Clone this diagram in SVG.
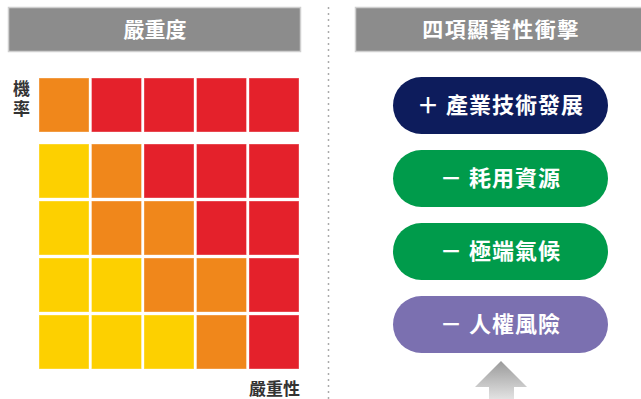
<svg xmlns="http://www.w3.org/2000/svg" width="641" height="399" viewBox="0 0 641 399">
<defs>
<linearGradient id="ag" x1="0" y1="0" x2="0" y2="1">
<stop offset="0" stop-color="#9a9a9a"/>
<stop offset="1" stop-color="#e2e2e2"/>
</linearGradient>
</defs>
<style>
.hdr{fill:#8c8c8c;stroke:#cfcfcf;stroke-width:1.5}
.ht{fill:#fff;font-family:"Noto Sans CJK TC","Noto Sans CJK SC",sans-serif;font-weight:700;font-size:21px;text-anchor:middle}
.o{fill:#f0871b}.r{fill:#e4212b}.y{fill:#fdd000}
.c rect{stroke:#fff;stroke-opacity:0.35;stroke-width:1}
.lbl{fill:#333;font-family:"Noto Sans CJK TC","Noto Sans CJK SC",sans-serif;font-weight:700;font-size:17px}
.pt{fill:#fff;font-family:"Noto Sans CJK TC","Noto Sans CJK SC",sans-serif;font-weight:700;font-size:22px;text-anchor:middle;letter-spacing:1px}
</style>
<rect width="641" height="399" fill="#fff"/>
<g id="severity-header">
<rect class="hdr" x="8.5" y="7.5" width="292" height="44"/>
<text class="ht" x="155" y="37">嚴重度</text>
</g>
<g id="matrix" class="c">
<rect class="o" x="39" y="78" width="50" height="54"/>
<rect class="r" x="91.5" y="78" width="50" height="54"/>
<rect class="r" x="144" y="78" width="50" height="54"/>
<rect class="r" x="196.5" y="78" width="50" height="54"/>
<rect class="r" x="249" y="78" width="50" height="54"/>
<rect class="y" x="39" y="144" width="50" height="54"/>
<rect class="o" x="91.5" y="144" width="50" height="54"/>
<rect class="r" x="144" y="144" width="50" height="54"/>
<rect class="r" x="196.5" y="144" width="50" height="54"/>
<rect class="r" x="249" y="144" width="50" height="54"/>
<rect class="y" x="39" y="201" width="50" height="54"/>
<rect class="o" x="91.5" y="201" width="50" height="54"/>
<rect class="o" x="144" y="201" width="50" height="54"/>
<rect class="r" x="196.5" y="201" width="50" height="54"/>
<rect class="r" x="249" y="201" width="50" height="54"/>
<rect class="y" x="39" y="258" width="50" height="54"/>
<rect class="y" x="91.5" y="258" width="50" height="54"/>
<rect class="o" x="144" y="258" width="50" height="54"/>
<rect class="o" x="196.5" y="258" width="50" height="54"/>
<rect class="r" x="249" y="258" width="50" height="54"/>
<rect class="y" x="39" y="315" width="50" height="54"/>
<rect class="y" x="91.5" y="315" width="50" height="54"/>
<rect class="y" x="144" y="315" width="50" height="54"/>
<rect class="o" x="196.5" y="315" width="50" height="54"/>
<rect class="r" x="249" y="315" width="50" height="54"/>
</g>
<g id="axis-labels">
<text class="lbl" x="21.5" y="80" writing-mode="vertical-rl" letter-spacing="3">機率</text>
<text class="lbl" x="300" y="395" text-anchor="end" font-size="18">嚴重性</text>
</g>
<g id="divider">
<line x1="328.5" y1="7" x2="328.5" y2="399" stroke="#aaa" stroke-width="1.5" stroke-dasharray="2 4"/>
</g>
<g id="impact-header">
<rect class="hdr" x="355.5" y="7.5" width="292" height="44"/>
<text class="ht" x="501" y="37" letter-spacing="1.5">四項顯著性衝擊</text>
</g>
<g id="impact-tech">
<rect x="393" y="77" width="215" height="57" rx="28.5" fill="#0d1c5c"/>
<text class="pt" x="500.5" y="113">＋ 產業技術發展</text>
</g>
<g id="impact-resource">
<rect x="393" y="150" width="215" height="57" rx="28.5" fill="#009b4b"/>
<text class="pt" x="500.5" y="186">－ 耗用資源</text>
</g>
<g id="impact-climate">
<rect x="393" y="223" width="215" height="57" rx="28.5" fill="#009b4b"/>
<text class="pt" x="500.5" y="259">－ 極端氣候</text>
</g>
<g id="impact-rights">
<rect x="393" y="296" width="215" height="57" rx="28.5" fill="#7b70b0"/>
<text class="pt" x="500.5" y="332">－ 人權風險</text>
</g>
<g id="connectors">
<polygon points="501,361 527,387 514,387 514,399 489,399 489,387 475,387" fill="url(#ag)"/>
</g>
</svg>
